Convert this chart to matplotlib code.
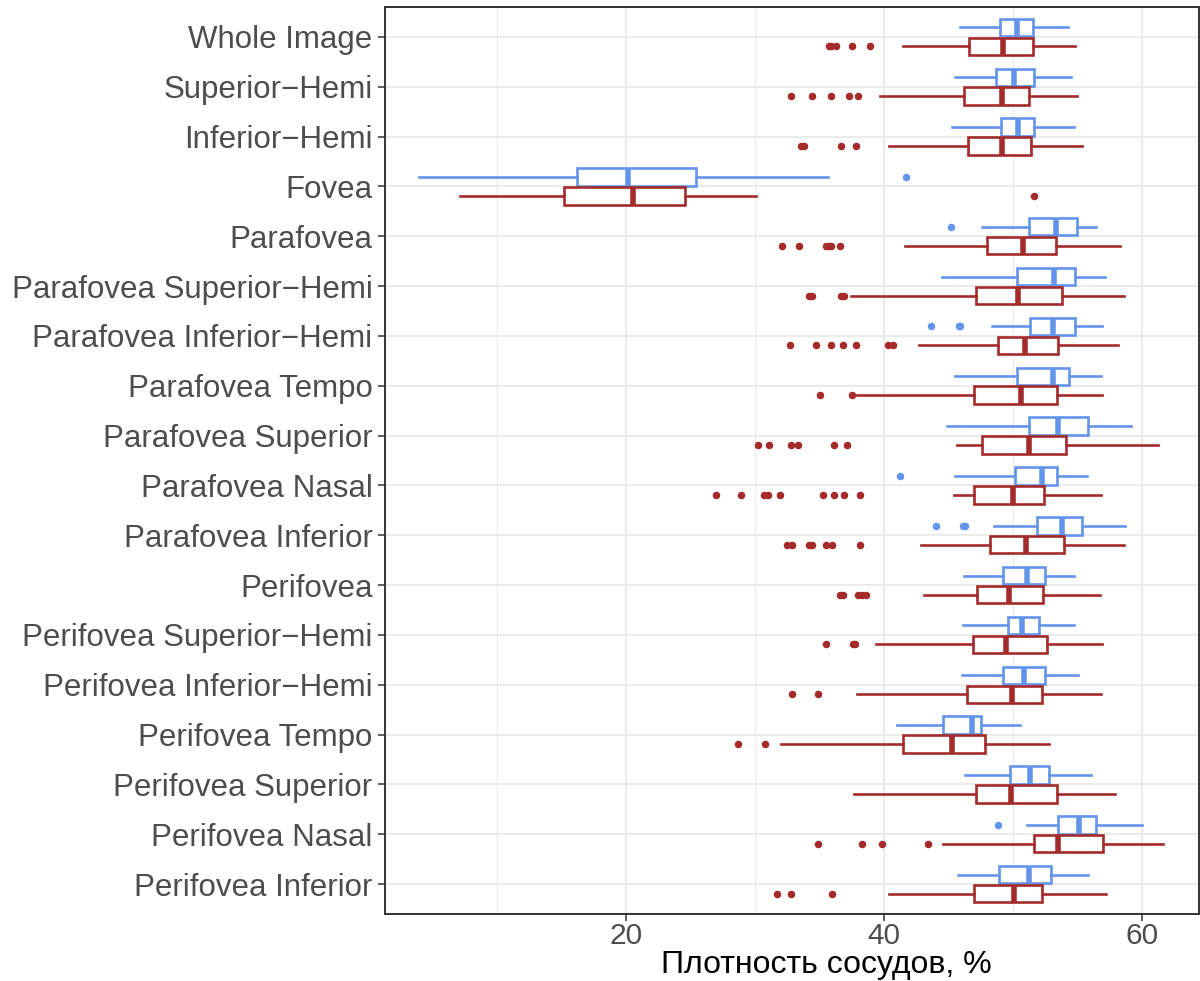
import matplotlib
matplotlib.use("Agg")
import matplotlib.pyplot as plt
from matplotlib.ticker import MultipleLocator

plt.rcParams['font.family'] = ['Liberation Sans', 'DejaVu Sans']

categories = ["Whole Image", "Superior\u2212Hemi", "Inferior\u2212Hemi", "Fovea", "Parafovea",
              "Parafovea Superior\u2212Hemi", "Parafovea Inferior\u2212Hemi", "Parafovea Tempo",
              "Parafovea Superior", "Parafovea Nasal", "Parafovea Inferior", "Perifovea",
              "Perifovea Superior\u2212Hemi", "Perifovea Inferior\u2212Hemi", "Perifovea Tempo",
              "Perifovea Superior", "Perifovea Nasal", "Perifovea Inferior"]

# blue group: [whislo, q1, median, q3, whishi]
blue_stats = [
    [45.85, 49.0, 50.3, 51.5, 54.26],
    [45.5, 48.7, 50.1, 51.6, 54.5],
    [45.25, 49.05, 50.4, 51.6, 54.75],
    [3.98, 16.2, 20.15, 25.4, 35.67],
    [47.6, 51.2, 53.3, 54.95, 56.4],
    [44.5, 50.3, 53.2, 54.8, 57.1],
    [48.4, 51.3, 53.1, 54.8, 56.85],
    [45.5, 50.3, 53.05, 54.3, 56.8],
    [44.9, 51.2, 53.5, 55.8, 59.1],
    [45.5, 50.15, 52.2, 53.4, 55.7],
    [48.5, 51.85, 53.8, 55.3, 58.7],
    [46.2, 49.2, 51.1, 52.5, 54.7],
    [46.15, 49.6, 50.7, 52.0, 54.75],
    [46.0, 49.25, 50.85, 52.5, 55.0],
    [41.0, 44.6, 46.8, 47.5, 50.5],
    [46.3, 49.75, 51.3, 52.8, 56.0],
    [51.1, 53.5, 55.1, 56.4, 60.0],
    [45.7, 48.9, 51.2, 52.9, 55.8],
]
blue_out = [
    [], [], [], [41.7], [45.2], [], [43.6, 45.8, 45.9], [], [], [41.2],
    [44.0, 46.1, 46.3], [], [], [], [], [], [48.8], [],
]

red_stats = [
    [41.5, 46.6, 49.25, 51.55, 54.8],
    [39.7, 46.2, 49.1, 51.2, 54.95],
    [40.35, 46.5, 49.1, 51.35, 55.35],
    [7.17, 15.17, 20.55, 24.6, 30.1],
    [41.6, 48.0, 50.8, 53.3, 58.3],
    [37.45, 47.1, 50.35, 53.75, 58.6],
    [42.7, 48.8, 50.9, 53.5, 58.1],
    [37.6, 47.0, 50.6, 53.4, 56.85],
    [45.65, 47.55, 51.2, 54.1, 61.2],
    [45.4, 47.0, 50.0, 52.4, 56.8],
    [42.85, 48.2, 51.0, 53.95, 58.6],
    [43.1, 47.2, 49.65, 52.35, 56.7],
    [39.4, 46.9, 49.45, 52.6, 56.85],
    [37.9, 46.4, 49.9, 52.2, 56.8],
    [32.0, 41.45, 45.3, 47.8, 52.8],
    [37.7, 47.1, 49.8, 53.4, 57.9],
    [44.6, 51.6, 53.5, 57.0, 61.6],
    [40.35, 46.95, 50.1, 52.2, 57.2],
]
red_out = [
    [35.7, 35.9, 36.3, 37.5, 38.9],
    [32.8, 34.4, 35.9, 37.3, 38.0],
    [33.6, 33.8, 36.7, 37.8],
    [51.6],
    [32.1, 33.4, 35.5, 35.7, 35.9, 36.6],
    [34.2, 34.4, 36.7, 36.9],
    [32.7, 34.7, 35.9, 36.8, 37.8, 40.3, 40.7],
    [35.0, 37.5],
    [30.2, 31.1, 32.8, 33.3, 36.1, 37.1],
    [27.0, 28.9, 30.7, 31.0, 31.9, 35.3, 36.1, 36.9, 38.1],
    [32.5, 32.9, 34.2, 34.45, 35.5, 36.0, 38.1],
    [36.6, 36.8, 38.0, 38.25, 38.6],
    [35.5, 37.57, 37.77],
    [32.9, 34.9],
    [28.7, 30.8],
    [],
    [34.9, 38.3, 39.8, 43.4],
    [31.7, 32.8, 36.0],
]

BLUE = "#6495ED"
RED = "#A52A2A"


def make_stats(stats, outs):
    res = []
    for s, o in zip(stats, outs):
        res.append(dict(whislo=s[0], q1=s[1], med=s[2], q3=s[3], whishi=s[4], fliers=o))
    return res


fig = plt.figure(figsize=(12, 9.81), dpi=100)
ax = fig.add_axes([385 / 1200, 1 - 914 / 981, (1199 - 385) / 1200, (914 - 7) / 981])

n = len(categories)
pos = list(range(1, n + 1))
off = 0.19
bw = 0.35

for stats, outs, color, sign, z in [(blue_stats, blue_out, BLUE, -1, 3), (red_stats, red_out, RED, 1, 4)]:
    ax.bxp(make_stats(stats, outs), positions=[p + sign * off for p in pos], widths=bw,
           orientation='horizontal', showcaps=False, patch_artist=True,
           boxprops=dict(facecolor='white', edgecolor=color, linewidth=1.9),
           whiskerprops=dict(color=color, linewidth=1.9),
           medianprops=dict(color=color, linewidth=4.0, solid_capstyle='butt'),
           flierprops=dict(marker='o', markerfacecolor=color, markeredgecolor=color,
                           markersize=4.4, linestyle='none'),
           manage_ticks=False, zorder=z)

ax.set_ylim(n + 0.6, 0.4)
ax.set_xlim(1.33, 64.4)
ax.set_yticks(pos)
ax.set_yticklabels(categories)
ax.xaxis.set_major_locator(MultipleLocator(20))
ax.xaxis.set_minor_locator(MultipleLocator(10))

ax.grid(True, which='major', color='#EBEBEB', linewidth=1.4, zorder=0)
ax.grid(True, which='minor', axis='x', color='#EBEBEB', linewidth=0.7, zorder=0)
ax.set_axisbelow(True)

ax.tick_params(axis='both', which='major', colors='#333333', length=5, width=1.1,
               labelsize=22.5, labelcolor='#4D4D4D', pad=4)
ax.tick_params(axis='x', which='minor', length=0)
ax.tick_params(axis='x', which='major', labelsize=21.5, pad=1)
for sp in ax.spines.values():
    sp.set_color('#333333')
    sp.set_linewidth(1.4)

ax.set_xlabel("Плотность сосудов, %", fontsize=23, color='black')
ax.xaxis.set_label_coords((826 - 385) / 814, -0.065)
ax.xaxis.label.set_va('baseline')

fig.savefig("out.png", dpi=100)
